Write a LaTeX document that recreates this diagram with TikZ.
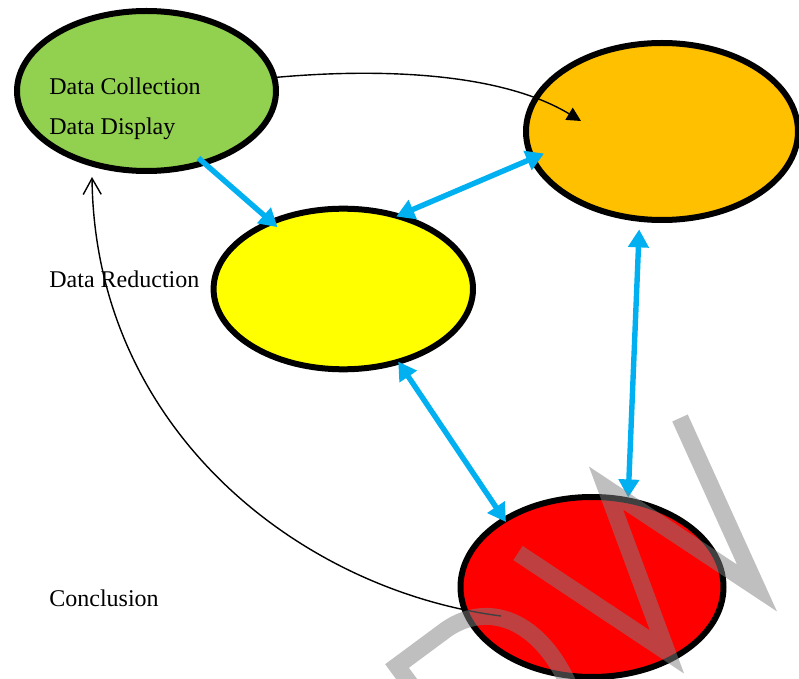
\documentclass[tikz,border=0pt]{standalone}
\usepackage{fontspec}
\setmainfont{Liberation Serif}
\usepackage{tikz}
\usetikzlibrary{arrows.meta,shapes.geometric,calc}
\definecolor{collectgreen}{HTML}{92D050}
\definecolor{displayorange}{HTML}{FFC000}
\definecolor{reduceyellow}{HTML}{FFFF00}
\definecolor{concludered}{HTML}{FF0000}
\definecolor{linkblue}{HTML}{00B0F0}
\tikzstyle{stage} = [ellipse,draw=black,line width=3pt,inner sep=0pt]
\tikzstyle{stagetext} = [anchor=base west,inner sep=0pt,font=\fontsize{12}{14}\selectfont]
\tikzstyle{link} = [draw=linkblue,line width=2.7pt,-{Triangle[length=9pt,width=10pt]}]
\tikzstyle{duallink} = [draw=linkblue,line width=2.7pt,{Triangle[length=9pt,width=10pt]}-{Triangle[length=9pt,width=10pt]}]
\tikzstyle{flow} = [draw=black,line width=0.7pt]
\tikzstyle{wmstroke} = [draw=black!50,line width=8.5pt,opacity=0.5,line join=miter]

\begin{document}
\begin{tikzpicture}[x=0.5pt,y=-0.5pt]
        \clip (0,0) rectangle (799,679);

        % the four stages
        \node[stage,fill=collectgreen,minimum width=129.5pt,minimum height=80pt] (collect) at (146.5,91) {};
        \node[stage,fill=displayorange,minimum width=136pt,minimum height=88.5pt] (display) at (662,131.5) {};
        \node[stage,fill=reduceyellow,minimum width=129.7pt,minimum height=80.3pt] (reduce) at (343.3,289) {};
        \node[stage,fill=concludered,minimum width=131.5pt,minimum height=90pt] (conclude) at (592,587) {};

        \node[stagetext] (collecttext) at (49,95) {Data Collection};
        \node[stagetext] (displaytext) at (49,135) {Data Display};
        \node[stagetext] (reducetext) at (49,288) {Data Reduction};
        \node[stagetext] (concludetext) at (49,606) {Conclusion};

        % thin curved arrows
        \draw[flow,-{Triangle[length=7pt,width=7pt]}] (collect.6) .. controls +(101,-9) and +(-81,-49) .. ($(display.center)+(-81,-10.5)$);
        \draw[flow,-{Straight Barb[length=8pt,width=9pt]}] ($(conclude.center)+(-91,29)$) .. controls +(-201,-26) and +(3,253) .. ($(collect.center)+(-54.5,86)$);

        % blue arrows
        \draw[link,shorten <=-5.3pt,shorten >=-5.5pt] (collect.-51.5) to (reduce.137.8);
        \draw[duallink,shorten <=-3pt,shorten >=-7.8pt] (reduce.52) to (display.192.9);
        \draw[duallink,shorten <=-1.6pt,shorten >=-2.8pt] (reduce.-53.7) to (conclude.142.2);
        \draw[duallink,shorten <=3.8pt] (display.-104.4) to (conclude.68.2);

        % watermark
        \draw[wmstroke] (680,418) -- (757,588) -- (606,488) -- (667,652) -- (518,553);
        \draw[wmstroke] (422,700) -- (397,666) -- (447,629) .. controls (490,600) and (545,620) .. (575,700);
\end{tikzpicture}
\end{document}
